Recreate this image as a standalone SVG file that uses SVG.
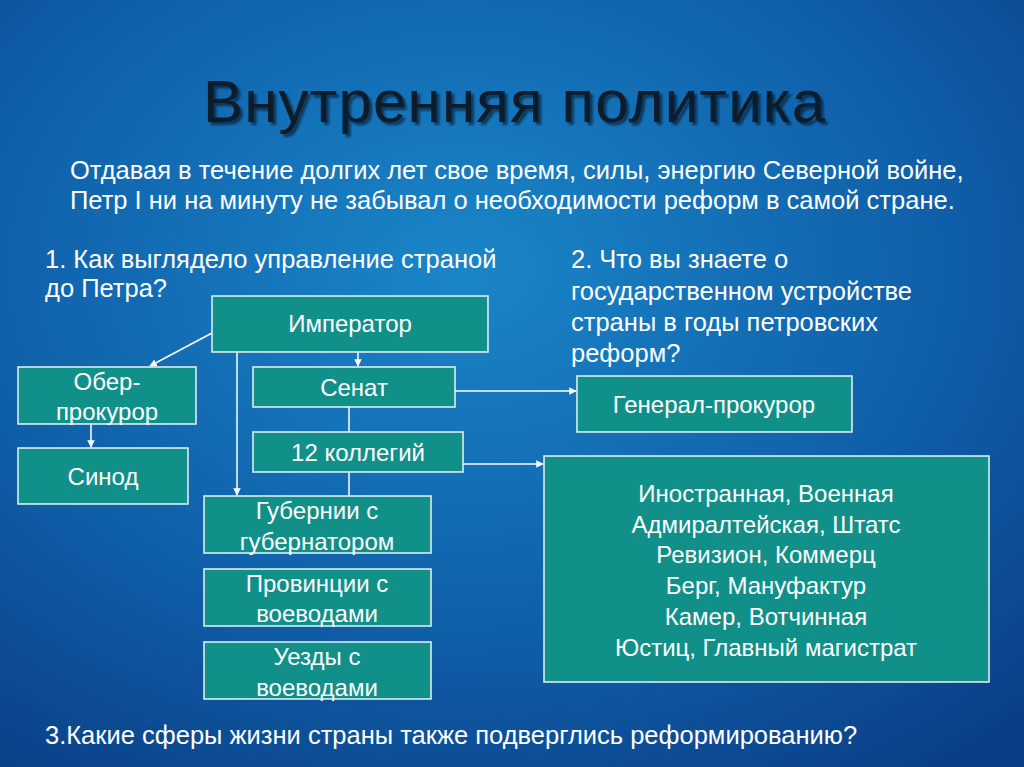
<svg xmlns="http://www.w3.org/2000/svg" width="1024" height="767" viewBox="0 0 1024 767">
<defs>
<radialGradient id="bg" cx="0.45" cy="0.35" r="0.8">
<stop offset="0" stop-color="#1a86c8"/><stop offset="0.6" stop-color="#0f5ea8"/><stop offset="1" stop-color="#0a3f86"/>
</radialGradient>
<filter id="sh"><feDropShadow dx="3" dy="3" stdDeviation="1" flood-color="#000" flood-opacity="0.5"/></filter>
<marker id="ar" viewBox="0 0 10 10" refX="9" refY="5" markerWidth="5" markerHeight="5" orient="auto"><path d="M0,0L10,5L0,10z" fill="#fff"/></marker>
</defs>
<style>
rect.n{fill:#11908a;stroke:#e8f4f4;stroke-width:1.5}
text{font-family:Arial,"Liberation Sans",sans-serif;fill:#fff}
.t{font-size:24px;text-anchor:middle}
.b{font-size:25.5px}
line{stroke:#fff;stroke-width:1.5}
</style>
<rect width="1024" height="767" fill="url(#bg)"/>
<text x="514" y="122" font-size="60" text-anchor="middle" textLength="622" style="fill:#0a1a2a" filter="url(#sh)">Внутренняя политика</text>
<text class="b" x="70" y="179">Отдавая в течение долгих лет свое время, силы, энергию Северной войне,</text>
<text class="b" x="70" y="209">Петр I ни на минуту не забывал  о необходимости реформ в самой стране.</text>
<text class="b" x="45" y="268">1. Как выглядело управление страной</text>
<text class="b" x="45" y="297">до Петра?</text>
<text class="b" x="571" y="268">2. Что вы знаете о</text>
<text class="b" x="571" y="300">государственном устройстве</text>
<text class="b" x="571" y="331">страны в годы петровских</text>
<text class="b" x="571" y="362">реформ?</text>
<text class="b" x="45" y="744">3.Какие сферы жизни страны  также подверглись реформированию?</text>
<g id="connectors">
<line x1="212" y1="333" x2="150" y2="366" marker-end="url(#ar)"/>
<line x1="358" y1="352" x2="358" y2="366" marker-end="url(#ar)"/>
<line x1="237" y1="352" x2="237" y2="495" marker-end="url(#ar)"/>
<line x1="91" y1="424" x2="91" y2="447" marker-end="url(#ar)"/>
<line x1="349" y1="407" x2="349" y2="432"/>
<line x1="349" y1="472" x2="349" y2="496"/>
<line x1="455" y1="391" x2="576" y2="391" marker-end="url(#ar)"/>
<line x1="463" y1="464" x2="543" y2="464" marker-end="url(#ar)"/>
</g>
<g id="imperator"><rect class="n" x="212" y="296" width="276" height="56"/><text class="t" x="350" y="332">Император</text></g>
<g id="senat"><rect class="n" x="253" y="367" width="202" height="40"/><text class="t" x="354" y="396">Сенат</text></g>
<g id="ober"><rect class="n" x="18" y="367" width="178" height="57"/><text class="t" x="107" y="390">Обер-</text><text class="t" x="107" y="420">прокурор</text></g>
<g id="sinod"><rect class="n" x="18" y="448" width="170" height="56"/><text class="t" x="103" y="485">Синод</text></g>
<g id="kollegii"><rect class="n" x="253" y="432" width="210" height="40"/><text class="t" x="358" y="461">12 коллегий</text></g>
<g id="gubernii"><rect class="n" x="204" y="496" width="227" height="57"/><text class="t" x="317" y="519">Губернии с</text><text class="t" x="317" y="550">губернатором</text></g>
<g id="provincii"><rect class="n" x="204" y="569" width="227" height="57"/><text class="t" x="317" y="592">Провинции с</text><text class="t" x="317" y="622">воеводами</text></g>
<g id="uezdy"><rect class="n" x="204" y="642" width="227" height="57"/><text class="t" x="317" y="665">Уезды с</text><text class="t" x="317" y="696">воеводами</text></g>
<g id="general"><rect class="n" x="577" y="376" width="275" height="56"/><text class="t" x="714" y="413">Генерал-прокурор</text></g>
<g id="list"><rect class="n" x="544" y="456" width="445" height="226"/>
<text class="t" x="766" y="502">Иностранная, Военная</text>
<text class="t" x="766" y="533">Адмиралтейская, Штатс</text>
<text class="t" x="766" y="563">Ревизион, Коммерц</text>
<text class="t" x="766" y="594">Берг, Мануфактур</text>
<text class="t" x="766" y="625">Камер, Вотчинная</text>
<text class="t" x="766" y="656">Юстиц, Главный магистрат</text>
</g>
</svg>
